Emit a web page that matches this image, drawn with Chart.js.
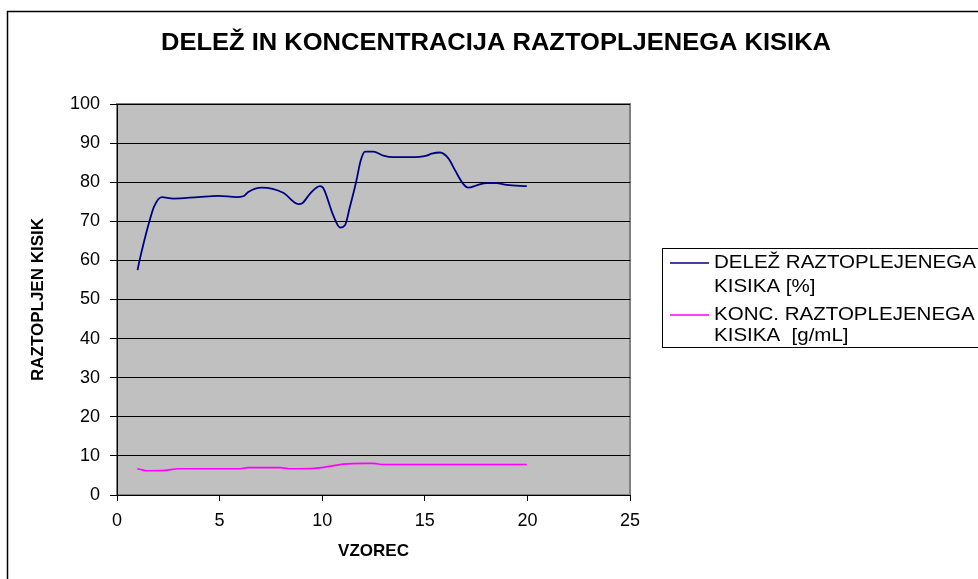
<!DOCTYPE html>
<html>
<head>
<meta charset="utf-8">
<script src="https://cdn.jsdelivr.net/npm/chart.js@4/dist/chart.umd.min.js"></script>
<style>
  body { margin: 0; background: #fff; }
  #wrap { width: 978px; height: 579px; }
</style>
</head>
<body>
<div id="wrap"><canvas id="chart"></canvas></div>
<script>
"use strict";

// 1: data
const chartTitle = "DELEŽ IN KONCENTRACIJA RAZTOPLJENEGA KISIKA";
const xTitle = "VZOREC";
const yTitle = "RAZTOPLJEN KISIK";

// series 1: delež raztopljenega kisika [%]
const delezX = [1.0, 1.1, 1.28, 1.57, 1.8, 2.18, 2.74, 3.96, 4.94, 5.83, 6.15, 6.4, 7.05, 8.1, 8.84, 9.05, 9.41, 9.89, 10.05, 10.54, 10.87, 11.11, 11.35, 11.65, 11.88, 12.09, 12.49, 12.98, 13.47, 14.28, 15.09, 15.34, 15.74, 16.15, 16.47, 16.88, 17.12, 17.53, 18.02, 18.5, 18.99, 19.97];
const delezY = [57.5, 60.0, 64.0, 69.8, 73.7, 76.2, 75.8, 76.2, 76.5, 76.2, 76.4, 77.5, 78.6, 77.3, 74.4, 74.7, 77.1, 79.0, 78.5, 71.5, 68.4, 69.0, 73.7, 80.0, 85.6, 87.8, 87.8, 86.8, 86.4, 86.4, 86.8, 87.3, 87.6, 86.1, 83.1, 79.5, 78.6, 79.2, 79.8, 79.8, 79.3, 79.0];

// series 2: koncentracija raztopljenega kisika [g/mL]
const koncX = [0.99, 1.45, 2.34, 2.99, 5.91, 6.4, 7.94, 8.51, 8.92, 9.98, 11.03, 12.09, 12.49, 12.98, 18.99, 19.97];
const koncY = [6.7, 6.2, 6.3, 6.7, 6.7, 7.0, 7.0, 6.7, 6.7, 7.0, 7.9, 8.1, 8.1, 7.8, 7.8, 7.8];

const seriesNames = [
  ["DELEŽ RAZTOPLEJENEGA", "KISIKA [%]"],
  ["KONC. RAZTOPLEJENEGA", "KISIKA  [g/mL]"]
];
const seriesColors = ["#000080", "#FF00FF"];

// 2: prepare points for chart.js
function toPoints(xs, ys) {
  let points = [];
  for (let i = 0; i < xs.length; i++) {
    points.push({ x: xs[i], y: ys[i] });
  }
  return points;
}

// 3: plugin for plot background, title, legend and frame
const excelLook = {
  id: "excelLook",
  beforeDraw(chart) {
    const { ctx, chartArea: a } = chart;
    ctx.save();
    ctx.fillStyle = "#fff";
    ctx.fillRect(0, 0, chart.width, chart.height);
    ctx.fillStyle = "#C0C0C0";
    ctx.fillRect(a.left, a.top, a.right - a.left, a.bottom - a.top);
    ctx.strokeStyle = "#808080";
    ctx.lineWidth = 2;
    ctx.strokeRect(a.left, a.top, a.right - a.left, a.bottom - a.top);
    ctx.restore();
  },
  afterDraw(chart) {
    const ctx = chart.ctx;
    ctx.save();
    // outer frame
    ctx.strokeStyle = "#000";
    ctx.lineWidth = 1.5;
    ctx.strokeRect(7.5, 11.5, 1000, 600);

    // title, stretched a little like the original
    ctx.fillStyle = "#000";
    ctx.font = "bold 23px 'Liberation Sans', Arial, sans-serif";
    ctx.textBaseline = "middle";
    ctx.textAlign = "center";
    const tw = ctx.measureText(chartTitle).width;
    const sx = 670 / tw;
    ctx.save();
    ctx.translate(496, 44);
    ctx.scale(sx, 1);
    ctx.fillText(chartTitle, 0, 0);
    ctx.restore();

    // legend
    ctx.strokeStyle = "#000";
    ctx.lineWidth = 1;
    ctx.strokeRect(662.5, 248.5, 400, 99);
    ctx.font = "19px 'Liberation Sans', Arial, sans-serif";
    ctx.textAlign = "left";
    const rows = [[263, 287], [315, 336]];
    chart.data.datasets.forEach((ds, i) => {
      ctx.strokeStyle = ds.borderColor;
      ctx.lineWidth = 1.5;
      ctx.beginPath();
      ctx.moveTo(670, rows[i][0]);
      ctx.lineTo(709, rows[i][0]);
      ctx.stroke();
      seriesNames[i].forEach((line, j) => {
        ctx.save();
        ctx.translate(714, rows[i][j]);
        ctx.scale(1.08, 1);
        ctx.fillStyle = "#000";
        ctx.fillText(line, 0, 0);
        ctx.restore();
      });
    });
    ctx.restore();
  }
};

// 4: create the chart
const tickFont = { family: "'Liberation Sans', Arial, sans-serif", size: 18 };
const titleFont = { family: "'Liberation Sans', Arial, sans-serif", size: 17, weight: "bold" };

new Chart(document.getElementById("chart"), {
  type: "scatter",
  data: {
    datasets: [{
      label: seriesNames[0].join(" "),
      data: toPoints(delezX, delezY),
      borderColor: seriesColors[0],
      borderWidth: 1.8,
      showLine: true,
      pointRadius: 0,
      cubicInterpolationMode: "monotone"
    }, {
      label: seriesNames[1].join(" "),
      data: toPoints(koncX, koncY),
      borderColor: seriesColors[1],
      borderWidth: 1.6,
      showLine: true,
      pointRadius: 0,
      cubicInterpolationMode: "monotone"
    }]
  },
  options: {
    responsive: true,
    maintainAspectRatio: false,
    animation: false,
    layout: { padding: { left: 28, top: 104, right: 348, bottom: 17 } },
    plugins: {
      legend: { display: false },
      tooltip: { enabled: false }
    },
    scales: {
      x: {
        type: "linear",
        min: 0,
        max: 25,
        afterFit(scale) { scale.height = 67; },
        ticks: { stepSize: 5, color: "#000", font: tickFont, padding: 9, maxRotation: 0 },
        grid: { drawOnChartArea: false, drawTicks: true, tickLength: 6, color: "#000" },
        border: { color: "#000", width: 1 },
        title: { display: true, text: xTitle, color: "#000", font: titleFont, padding: 0 }
      },
      y: {
        min: 0,
        max: 100,
        afterFit(scale) { scale.width = 89; },
        ticks: { stepSize: 10, color: "#000", font: tickFont, padding: 10 },
        grid: { color: "#000", lineWidth: 1, drawTicks: true, tickLength: 7, tickColor: "#000" },
        border: { color: "#000", width: 1 },
        title: { display: true, text: yTitle, color: "#000", font: titleFont, padding: 0 }
      }
    }
  },
  plugins: [excelLook]
});
</script>
</body>
</html>
